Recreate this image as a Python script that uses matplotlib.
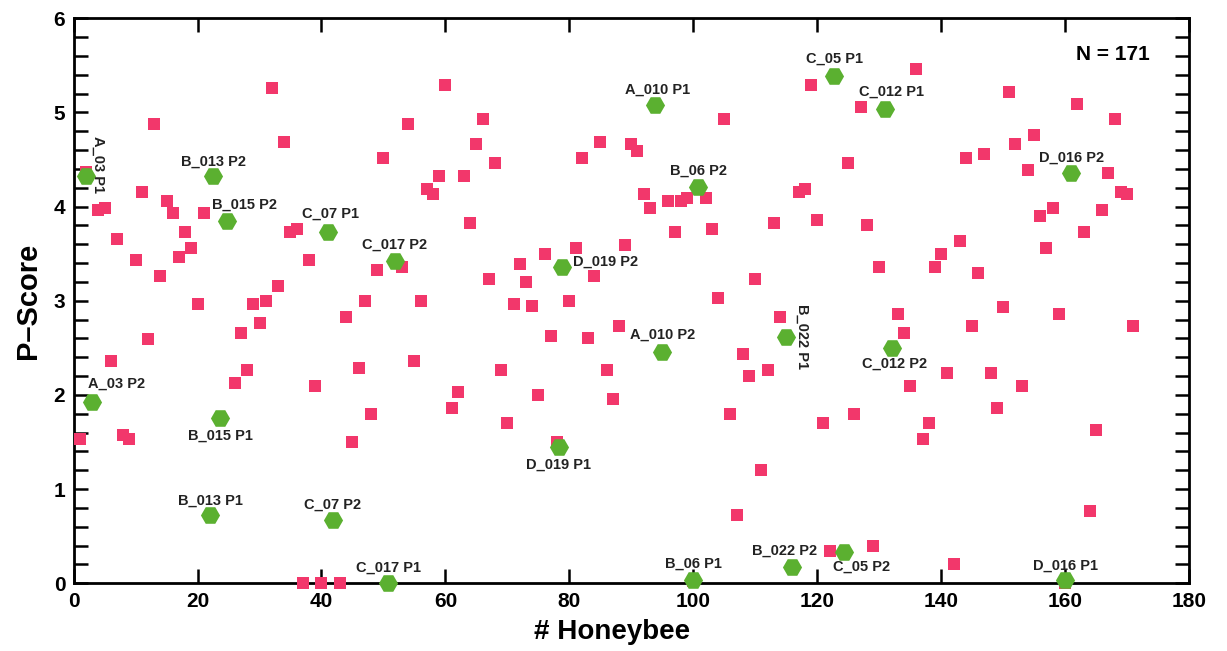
import matplotlib.pyplot as plt
from matplotlib.ticker import MultipleLocator

plt.rcParams['font.family'] = ['Liberation Sans', 'DejaVu Sans']
plt.rcParams['font.weight'] = 'bold'

# all honeybees (pink squares)
bee_x = [1, 2, 4, 5, 6, 7, 8, 9, 10, 11, 12, 13, 14, 15, 16, 17, 18, 19, 20, 21,
         26, 27, 28, 29, 30, 31, 32, 33, 34, 35, 36, 37, 38, 39, 40, 43, 44, 45, 46, 47,
         48, 49, 50, 53, 54, 55, 56, 57, 58, 59, 60, 61, 62, 63, 64, 65, 66, 67, 68, 69,
         70, 71, 72, 73, 74, 75, 76, 77, 78, 80, 81, 82, 83, 84, 85, 86, 87, 88, 89, 90,
         91, 92, 93, 96, 97, 98, 99, 100, 102, 103, 104, 105, 106, 107, 108, 109, 110, 111, 112, 113,
         114, 117, 118, 119, 120, 121, 122, 125, 126, 127, 128, 129, 130, 133, 134, 135, 136, 137, 138, 139,
         140, 141, 142, 143, 144, 145, 146, 147, 148, 149, 150, 151, 152, 153, 154, 155, 156, 157, 158, 159,
         160, 162, 163, 164, 165, 166, 167, 168, 169, 170, 171]
bee_y = [1.53, 4.37, 3.96, 3.99, 2.36, 3.66, 1.57, 1.53, 3.43, 4.16, 2.59, 4.88, 3.26, 4.06, 3.93, 3.46, 3.73, 3.56, 2.97, 3.93,
         2.13, 2.66, 2.26, 2.97, 2.76, 3.00, 5.26, 3.16, 4.69, 3.73, 3.76, 0.00, 3.43, 2.10, 0.00, 0.00, 2.83, 1.50, 2.29, 3.00,
         1.80, 3.33, 4.52, 3.36, 4.88, 2.36, 3.00, 4.19, 4.13, 4.33, 5.29, 1.86, 2.03, 4.33, 3.83, 4.66, 4.93, 3.23, 4.46, 2.26,
         1.70, 2.97, 3.39, 3.20, 2.94, 2.00, 3.50, 2.63, 1.50, 3.00, 3.56, 4.52, 2.60, 3.26, 4.69, 2.26, 1.96, 2.73, 3.59, 4.66,
         4.59, 4.13, 3.99, 4.06, 3.73, 4.06, 4.09, 0.02, 4.09, 3.76, 3.03, 4.93, 1.80, 0.73, 2.43, 2.20, 3.23, 1.20, 2.26, 3.83,
         2.83, 4.16, 4.19, 5.29, 3.86, 1.70, 0.34, 4.46, 1.80, 5.06, 3.80, 0.40, 3.36, 2.86, 2.66, 2.10, 5.46, 1.53, 1.70, 3.36,
         3.50, 2.23, 0.20, 3.63, 4.52, 2.73, 3.30, 4.56, 2.23, 1.86, 2.93, 5.22, 4.66, 2.10, 4.39, 4.76, 3.90, 3.56, 3.99, 2.86,
         0.00, 5.09, 3.73, 0.77, 1.63, 3.96, 4.36, 4.93, 4.16, 4.13, 2.73]

# labelled bees (green hexagons)
sel_labels = ['A_03 P1', 'A_03 P2', 'B_013 P2', 'B_013 P1', 'B_015 P2', 'B_015 P1',
              'C_07 P1', 'C_07 P2', 'C_017 P2', 'C_017 P1', 'D_019 P2', 'D_019 P1',
              'A_010 P1', 'A_010 P2', 'B_06 P2', 'B_06 P1', 'B_022 P1', 'B_022 P2',
              'C_05 P1', 'C_05 P2', 'C_012 P1', 'C_012 P2', 'D_016 P2', 'D_016 P1']
sel_x = [2, 3, 22.5, 22, 24.8, 23.6, 41, 41.8, 51.8, 50.8, 78.8, 78.3,
         93.9, 95, 100.8, 100, 115, 116, 122.7, 124.3, 131, 132, 161, 160]
sel_y = [4.32, 1.93, 4.32, 0.72, 3.85, 1.76, 3.73, 0.67, 3.42, 0.0, 3.36, 1.45,
         5.08, 2.46, 4.21, 0.035, 2.62, 0.17, 5.39, 0.33, 5.04, 2.50, 4.36, 0.035]

# label placement: offset in pixels from the marker, rotation
lab_dx = [12, 24, 0, 0, 17, 1, 3, 0, 0, 0, 44, 0, 2, 0, 0, 0, 16, -8, 1, 18, 6, 3, 0, 0]
lab_dy = [12, 18, 15, 15, 16, -18, 18, 15, 16, 16, 5, -18, 15, 17, 16, 16, 0, 17, 17, -15, 17, -16, 15, 14]
lab_rot = [-90, 0, 0, 0, 0, 0, 0, 0, 0, 0, 0, 0, 0, 0, 0, 0, -90, 0, 0, 0, 0, 0, 0, 0]

fig = plt.figure(figsize=(12.27, 6.51), dpi=100)
ax = fig.add_axes([0.06, 0.104, 0.909, 0.868])

ax.scatter(bee_x, bee_y, marker='s', s=72, color='#f2376b', linewidths=0, zorder=3, clip_on=False)
ax.scatter(sel_x, sel_y, marker='H', s=190, color='#5bb030', linewidths=0, zorder=4, clip_on=False)

for i in range(len(sel_labels)):
    ax.annotate(sel_labels[i], (sel_x[i], sel_y[i]), xytext=(lab_dx[i], lab_dy[i]),
                textcoords='offset pixels', ha='center', va='center', rotation=lab_rot[i],
                fontsize=10.5, fontweight='bold', color='#222222', zorder=5)

ax.text(0.932, 0.935, 'N = 171', transform=ax.transAxes, ha='center', va='center',
        fontsize=15, fontweight='bold')

ax.set_xlim(0, 180)
ax.set_ylim(0, 6)
ax.xaxis.set_major_locator(MultipleLocator(20))
ax.yaxis.set_major_locator(MultipleLocator(1))
ax.yaxis.set_minor_locator(MultipleLocator(0.2))
ax.tick_params(axis='both', which='both', direction='in', top=True, right=True, width=1.8, length=10)
ax.tick_params(axis='both', which='major', labelsize=15, pad=6)
for lbl in ax.get_xticklabels() + ax.get_yticklabels():
    lbl.set_fontweight('bold')
for sp in ax.spines.values():
    sp.set_linewidth(2)

ax.set_xlabel('# Honeybee', fontsize=20, fontweight='bold')
ax.xaxis.set_label_coords(0.483, -0.063)
ax.set_ylabel('P\u2013Score', fontsize=21, fontweight='bold', labelpad=8)

fig.savefig('out.png', dpi=100)
